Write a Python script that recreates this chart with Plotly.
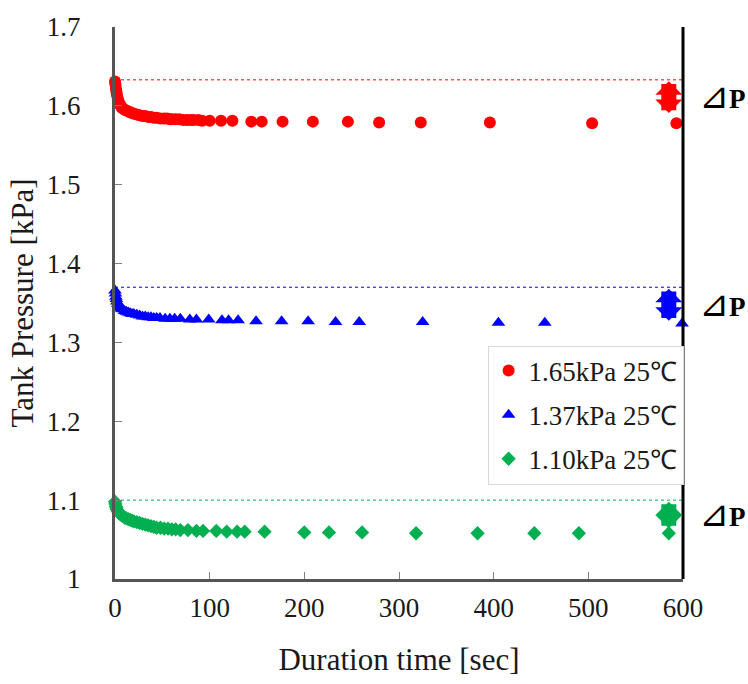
import plotly.graph_objects as go

# ---- data ----
red_t = [0, 0.5, 1, 1.5, 2, 3, 4, 5, 6, 7, 8, 10, 12, 14, 16, 18, 20, 23, 26, 29, 32, 35, 38, 41, 44, 48, 52, 55, 58, 60, 64, 68, 72, 76, 80, 83, 88, 92, 100, 112, 124, 144, 155, 177, 209, 246, 279, 323, 396, 504, 593]
red_p = [1.631, 1.627, 1.622, 1.618, 1.614, 1.609, 1.605, 1.602, 1.600, 1.598, 1.597, 1.595, 1.594, 1.593, 1.592, 1.591, 1.590, 1.589, 1.588, 1.587, 1.587, 1.586, 1.586, 1.585, 1.585, 1.584, 1.584, 1.584, 1.583, 1.583, 1.583, 1.583, 1.582, 1.582, 1.582, 1.582, 1.582, 1.581, 1.581, 1.581, 1.581, 1.580, 1.580, 1.580, 1.580, 1.580, 1.579, 1.579, 1.579, 1.578, 1.578]

blue_t = [0, 0.5, 1, 1.5, 2, 3, 4, 5, 6, 7, 8, 10, 12, 14, 16, 18, 20, 23, 26, 29, 32, 35, 38, 41, 44, 47.5, 53, 58, 63, 69, 79, 86, 99, 113, 120, 130, 149, 176, 204, 233, 258, 325, 405, 454, 599]
blue_p = [1.366, 1.362, 1.358, 1.355, 1.352, 1.349, 1.347, 1.345, 1.344, 1.343, 1.342, 1.340, 1.339, 1.338, 1.337, 1.336, 1.336, 1.335, 1.334, 1.333, 1.333, 1.332, 1.332, 1.331, 1.331, 1.331, 1.330, 1.330, 1.330, 1.330, 1.329, 1.329, 1.329, 1.328, 1.328, 1.328, 1.327, 1.327, 1.327, 1.326, 1.326, 1.326, 1.325, 1.325, 1.324]

green_t = [0, 0.5, 1, 1.5, 2, 3, 4, 5, 6, 7, 8, 10, 12, 14, 16, 18, 20, 23, 26, 29, 32, 35, 38, 41, 44, 48, 52, 56, 60, 64, 69, 77, 86, 93, 107, 118, 129, 137, 158, 200, 226, 261, 318, 383, 443, 490, 585]
green_p = [1.098, 1.095, 1.092, 1.090, 1.088, 1.086, 1.084, 1.083, 1.082, 1.081, 1.080, 1.078, 1.077, 1.076, 1.075, 1.074, 1.073, 1.072, 1.071, 1.070, 1.069, 1.068, 1.067, 1.066, 1.065, 1.065, 1.064, 1.064, 1.063, 1.063, 1.062, 1.062, 1.061, 1.061, 1.061, 1.060, 1.060, 1.060, 1.060, 1.059, 1.059, 1.059, 1.058, 1.058, 1.058, 1.058, 1.058]

series_names = ["1.65kPa 25℃", "1.37kPa 25℃", "1.10kPa 25℃"]
series_colors = ["#FF0000", "#0000FF", "#00B050"]
series_symbols = ["circle", "triangle-up", "diamond"]

# initial pressure reference levels and ΔP arrows
ref_levels = [1.633, 1.370, 1.100]
arrow_bottoms = [1.591, 1.3275, 1.064]
arrow_time = 585

x_ticks = [0, 100, 200, 300, 400, 500, 600]
y_ticks = [1.0, 1.1, 1.2, 1.3, 1.4, 1.5, 1.6, 1.7]

FONT = "Liberation Serif, Times New Roman, serif"

fig = go.Figure()
all_t = [red_t, blue_t, green_t]
all_p = [red_p, blue_p, green_p]
sizes = [12, 12, 11]
for i in range(3):
    fig.add_trace(go.Scatter(
        x=all_t[i], y=all_p[i], mode="markers", name=series_names[i],
        legendgroup=str(i),
        marker=dict(color=series_colors[i], symbol=series_symbols[i], size=sizes[i]),
        cliponaxis=False,
    ))

shapes = []
for i in range(3):
    shapes.append(dict(type="line", xref="x", yref="y", x0=0, x1=600,
                       y0=ref_levels[i], y1=ref_levels[i],
                       line=dict(color=series_colors[i], width=1, dash="dot"), layer="below"))
# right frame line
shapes.append(dict(type="line", xref="paper", yref="paper", x0=1, x1=1, y0=0, y1=1,
                   line=dict(color="black", width=3)))

annotations = []
for i in range(3):
    annotations.append(dict(
        x=arrow_time, y=arrow_bottoms[i], ax=arrow_time, ay=ref_levels[i],
        xref="x", yref="y", axref="x", ayref="y", text="", showarrow=True,
        arrowhead=1, startarrowhead=1, arrowside="end+start",
        arrowwidth=15, arrowsize=0.3, startarrowsize=0.3,
        arrowcolor=series_colors[i]))
    annotations.append(dict(
        x=1, y=(ref_levels[i] + arrow_bottoms[i]) / 2, xref="paper", yref="y",
        xanchor="left", yanchor="middle", xshift=14, showarrow=False,
        text="<span style='font-size:36px'>⊿</span><b>P</b>",
        font=dict(family=FONT, size=27, color="black")))

fig.update_layout(
    width=748, height=684,
    margin=dict(l=115, r=65, t=18, b=105),
    paper_bgcolor="white", plot_bgcolor="white",
    font=dict(family=FONT, size=27, color="#1a1a1a"),
    showlegend=True,
    legend=dict(x=0.656, y=0.423, xanchor="left", yanchor="top",
                bordercolor="#d9d9d9", borderwidth=1, bgcolor="white",
                font=dict(family=FONT, size=27, color="#1a1a1a"),
                tracegroupgap=6, traceorder="grouped"),
    shapes=shapes,
    annotations=annotations,
    xaxis=dict(range=[0, 600], tickvals=x_ticks, ticks="inside", ticklen=7,
               tickcolor="#808080", showgrid=False, zeroline=False,
               showline=True, linecolor="#555555", linewidth=3,
               ticklabelstandoff=3, tickfont=dict(size=27),
               title=dict(text="Duration time [sec]", font=dict(size=31), standoff=26)),
    yaxis=dict(range=[1.0, 1.7], tickvals=y_ticks, ticks="inside", ticklen=7,
               tickcolor="#808080", showgrid=False, zeroline=False,
               showline=True, linecolor="#555555", linewidth=3,
               tickformat="~g", ticklabelstandoff=26, tickfont=dict(size=27),
               title=dict(text="Tank Pressure [kPa]", font=dict(size=31), standoff=4)),
)

fig.write_html("out.html")
